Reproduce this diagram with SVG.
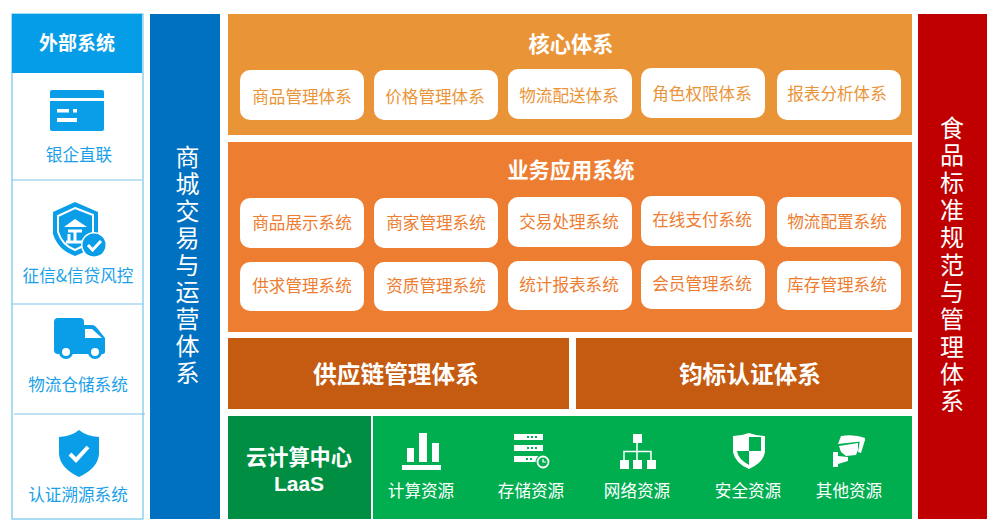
<svg xmlns="http://www.w3.org/2000/svg" width="1000" height="527" viewBox="0 0 1000 527">
<style>
text{font-family:"Noto Sans CJK SC","Noto Sans",sans-serif;text-anchor:middle}
.lbl{font-size:16.600px;fill:#ea9438}
.lb2{font-size:16.600px;fill:#ed7d31}
.ext{font-size:16.600px;fill:#1a9fe8}
.res{font-size:16.600px;fill:#fff}
.h{font-size:21.200px;font-weight:700;fill:#fff}
.big{font-size:23.700px;font-weight:700;fill:#fff}
.v{font-size:24px;fill:#fff;writing-mode:vertical-rl;text-anchor:start}
.card{fill:#fff;stroke:none}
.ic{fill:#0a9ee8}
.w{fill:#fff}
.line{stroke:#7fc4ea;stroke-width:1.200;fill:none}
</style>
<g id="external">
<rect x="12" y="14" width="131" height="505" fill="#fff" stroke="#6fc6ec" stroke-width="1.200"/>
<rect x="12" y="14" width="130" height="59" fill="#069de8"/>
<text class="h" x="77" y="50" style="font-size:19px">外部系统</text>
</g>
<g id="bank">
<rect class="ic" x="50" y="90" width="54" height="41" rx="2"/>
<rect class="w" x="50" y="98" width="54" height="3"/>
<rect class="w" x="57" y="109" width="12" height="3.500"/><rect class="w" x="73" y="109" width="4" height="3.500"/>
<rect class="w" x="57" y="118" width="20" height="4"/>
<text class="ext" x="79" y="161">银企直联</text>
</g>
<g id="credit">
<path class="ic" d="M75 202 L98 212 L98 236 Q92 250 75 256 Q58 250 53 234 L53 212 Z"/>
<path d="M75 208 L93 215 L93 233 Q88 245 75 250 Q62 245 58 232 L58 216 Z" fill="none" stroke="#fff" stroke-width="2"/>
<path d="M64 227 L75 219 L87 227 Z" fill="#fff"/>
<path d="M68 231 H82 M75 231 V241 M66 242 H84 M69 234 V242" fill="none" stroke="#fff" stroke-width="3"/>
<circle cx="94" cy="245" r="13" fill="#fff"/>
<circle class="ic" cx="94" cy="245" r="11.500"/>
<path d="M88 245 L92.500 250 L101 241" fill="none" stroke="#fff" stroke-width="3"/>
<text class="ext" x="78" y="282">征信&amp;信贷风控</text>
</g>
<g id="logistics">
<path class="ic" d="M58 318 H80 Q84 318 84 322 V325 H92 Q95 325 97 328 L105 338 V352 Q105 354 103 354 H58 Q54 354 54 350 V322 Q54 318 58 318 Z"/>
<path class="w" d="M85 329 H92 L102 338 H85 Z"/>
<circle class="ic" cx="66" cy="352" r="7"/><circle class="w" cx="66" cy="352" r="4"/>
<circle class="ic" cx="95" cy="352" r="7"/><circle class="w" cx="95" cy="352" r="4"/>
<text class="ext" x="78" y="391">物流仓储系统</text>
</g>
<g id="trace">
<path class="ic" d="M79 430 Q86 436 99 437 V454 Q98 468 79 477 Q60 468 59 454 V437 Q72 436 79 430 Z"/>
<path d="M70 454 L76 460 L88 447" fill="none" stroke="#fff" stroke-width="4"/>
<text class="ext" x="78" y="501">认证溯源系统</text>
</g>
<g id="connectors">
<path class="line" d="M12 180 H142 M12 304 H143 M14 414 H145"/>
</g>
<g id="mall">
<rect x="150" y="14" width="70" height="505" fill="#0070c0"/>
<text class="v" x="187.500" y="145" letter-spacing="3">商城交易与运营体系</text>
</g>
<g id="core">
<rect x="228" y="14" width="684" height="121" fill="#ea9438"/>
<text class="h" x="571" y="52">核心体系</text>
<rect class="card" x="240" y="70" width="124" height="50" rx="10"/><text class="lbl" x="302" y="103">商品管理体系</text>
<rect class="card" x="374" y="70" width="124" height="50" rx="10"/><text class="lbl" x="435" y="103">价格管理体系</text>
<rect class="card" x="508" y="69" width="124" height="50" rx="10"/><text class="lbl" x="569" y="102">物流配送体系</text>
<rect class="card" x="641" y="68" width="124" height="50" rx="10"/><text class="lbl" x="702" y="100">角色权限体系</text>
<rect class="card" x="777" y="70" width="124" height="50" rx="10"/><text class="lbl" x="837" y="100">报表分析体系</text>
</g>
<g id="business">
<rect x="228" y="142" width="684" height="190" fill="#ed7d31"/>
<text class="h" x="571" y="178">业务应用系统</text>
<rect class="card" x="240" y="198" width="124" height="50" rx="10"/><text class="lb2" x="302" y="229">商品展示系统</text>
<rect class="card" x="374" y="198" width="124" height="50" rx="10"/><text class="lb2" x="436" y="229">商家管理系统</text>
<rect class="card" x="508" y="197" width="124" height="50" rx="10"/><text class="lb2" x="569" y="228">交易处理系统</text>
<rect class="card" x="641" y="196" width="124" height="50" rx="10"/><text class="lb2" x="702" y="226">在线支付系统</text>
<rect class="card" x="777" y="197" width="124" height="50" rx="10"/><text class="lb2" x="837" y="228">物流配置系统</text>
<rect class="card" x="240" y="262" width="124" height="49" rx="10"/><text class="lb2" x="302" y="292">供求管理系统</text>
<rect class="card" x="374" y="262" width="124" height="49" rx="10"/><text class="lb2" x="436" y="292">资质管理系统</text>
<rect class="card" x="508" y="261" width="124" height="49" rx="10"/><text class="lb2" x="569" y="291">统计报表系统</text>
<rect class="card" x="641" y="260" width="124" height="49" rx="10"/><text class="lb2" x="702" y="290">会员管理系统</text>
<rect class="card" x="777" y="261" width="124" height="49" rx="10"/><text class="lb2" x="837" y="291">库存管理系统</text>
</g>
<g id="supply">
<rect x="228" y="338" width="341" height="71" fill="#c55a11"/>
<text class="big" x="396" y="383">供应链管理体系</text>
</g>
<g id="bidding">
<rect x="576" y="338" width="336" height="71" fill="#c55a11"/>
<text class="big" x="750" y="383">钧标认证体系</text>
</g>
<g id="cloud">
<rect x="228" y="416" width="143" height="103" fill="#008f42"/>
<text class="h" x="299" y="465">云计算中心</text>
<text class="h" x="299" y="491" style="font-family:'Liberation Sans',sans-serif;font-size:21px">LaaS</text>
</g>
<g id="resources">
<rect x="373" y="416" width="539" height="103" fill="#00ae50"/>
<g class="w">
<rect x="402" y="465" width="39" height="5"/><rect x="407" y="448" width="7" height="14"/><rect x="419" y="433" width="8" height="29"/><rect x="432" y="443" width="7" height="19"/>
</g>
<text class="res" x="421" y="497">计算资源</text>
<g class="w">
<rect x="514" y="434" width="29" height="6"/><rect x="514" y="445" width="29" height="6"/><rect x="514" y="456" width="29" height="6"/>
<circle cx="543" cy="462" r="7.500" fill="#00ae50"/>
<circle cx="543" cy="462" r="5.500" fill="none" stroke="#fff" stroke-width="1.800"/>
<path d="M543 459 V462 H546" fill="none" stroke="#fff" stroke-width="1.200"/>
<path d="M527 437 H537 M527 448 H537 M526 459 H534" fill="none" stroke="#00ae50" stroke-width="2" stroke-dasharray="2 2"/>
</g>
<text class="res" x="531" y="497">存储资源</text>
<g class="w">
<rect x="633" y="434" width="9" height="9"/><rect x="620" y="460" width="9" height="9"/><rect x="633" y="460" width="9" height="9"/><rect x="647" y="460" width="9" height="9"/>
<path d="M637 443 V460 M624 460 V451.500 H651 V460" fill="none" stroke="#fff" stroke-width="1.500"/>
</g>
<text class="res" x="637" y="497">网络资源</text>
<path class="w" d="M749 433 Q757 436 765 436 V452 Q763 463 749 469 Q735 463 733 452 V436 Q741 436 749 433 Z"/>
<path fill="#00ae50" d="M749 437 H761 V451 H749 Z M749 451 H737 Q738 459 749 465 Z"/>
<text class="res" x="748" y="497">安全资源</text>
<g class="w">
<path d="M841 436 Q855 434 865 438 V441 L838 444 Z M839 446 L858 443 V450 L856 455 L846 456 L841 452 Z M860 440 H865 L861 453 L858 452 Z"/>
<path d="M833 452 H838 V456 L848 457 V461 L838 464 V467 L833 467 Z"/>
</g>
<text class="res" x="849" y="497">其他资源</text>
</g>
<g id="standards">
<rect x="918" y="14" width="69" height="505" fill="#c00000"/>
<text class="v" x="952" y="116" letter-spacing="3.300">食品标准规范与管理体系</text>
</g>
</svg>
